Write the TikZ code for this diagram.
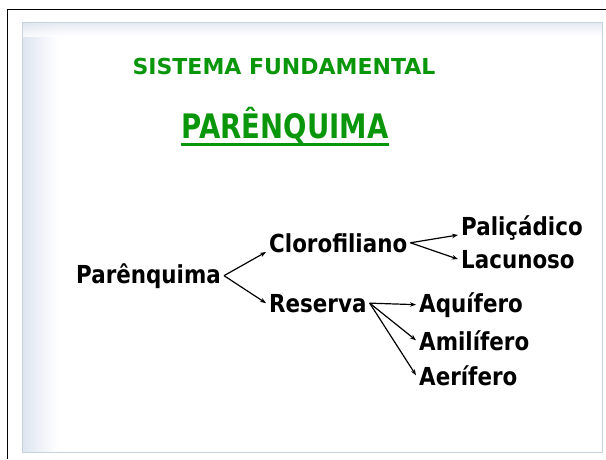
\documentclass[tikz,border=0pt]{standalone}
\usepackage{fontspec}
\setmainfont{DejaVu Sans}
\usetikzlibrary{arrows.meta,shadings}
\definecolor{titlegreen}{RGB}{10,150,10}
\definecolor{panelline}{RGB}{200,210,222}
\definecolor{panelblue}{RGB}{222,229,240}
\newcommand{\tallt}[1]{\scalebox{1.02}[1.18]{#1}}
\begin{document}
\begin{tikzpicture}[x=1pt,y=-1pt,
  lbl/.style={font=\fontsize{21}{25}\selectfont\bfseries, inner sep=3pt, anchor=base west},
  arr/.style={-{Stealth[length=6pt,width=4.5pt]}, line width=1.2pt},
  title/.style={font=\fontsize{22}{26}\selectfont\bfseries, text=titlegreen, anchor=base}]
\useasboundingbox (0,0) rectangle (606,459);
% outer frame lines
\draw[line width=1.8pt] (7.5,459) -- (7.5,9.5) -- (606,9.5);
% panel
\fill[white] (22,22) rectangle (602,452);
\shade[left color=panelblue, right color=white] (22,22) rectangle (58,452);
\shade[top color=panelblue, bottom color=white, opacity=0.8] (22,22) rectangle (602,36);
\draw[panelline, line width=1pt] (22,22) rectangle (602,452);
% titles
\node[title] (t1) at (284,74) {SISTEMA FUNDAMENTAL};
\node[title, font=\fontsize{27}{32}\selectfont\bfseries, inner sep=0pt] (t2) at (285,138) {\scalebox{1.02}[1.25]{PARÊNQUIMA}};
\draw[titlegreen, line width=3pt] ([yshift=-6.5pt]t2.base west) -- ([yshift=-6.5pt]t2.base east);
% labels
\node[lbl] (par) at (73,283) {\tallt{Parênquima}};
\node[lbl] (clo) at (266,252) {\tallt{Clorofiliano}};
\node[lbl] (res) at (266,312) {\tallt{Reserva}};
\node[lbl] (pal) at (458,235) {\tallt{Paliçádico}};
\node[lbl] (lac) at (458,268) {\tallt{Lacunoso}};
\node[lbl] (aqu) at (416,312) {\tallt{Aquífero}};
\node[lbl] (ami) at (416,350) {\tallt{Amilífero}};
\node[lbl] (aer) at (416,385) {\tallt{Aerífero}};
% connectors
\draw[arr] (par.east) -- (clo.base west);
\draw[arr] (par.east) -- (res.west);
\draw[arr] (clo.east) -- (pal.base west);
\draw[arr] (clo.east) -- (lac.west);
\draw[arr] (res.east) -- (aqu.west);
\draw[arr] (res.east) -- (ami.west);
\draw[arr] (res.east) -- (aer.west);
\end{tikzpicture}
\end{document}
